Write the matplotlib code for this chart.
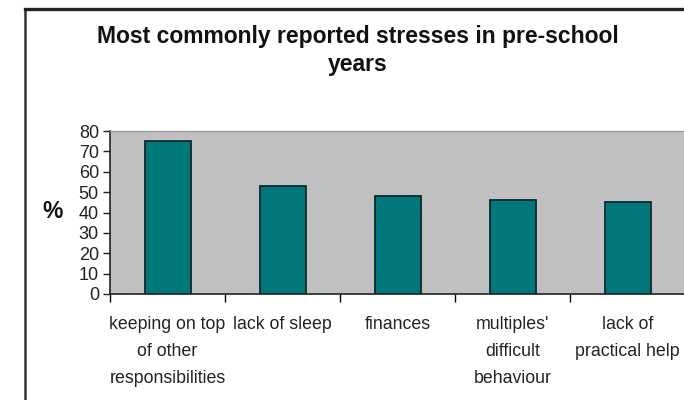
import matplotlib.pyplot as plt
from matplotlib.lines import Line2D

plt.rcParams['font.family'] = ['Liberation Sans', 'DejaVu Sans']

# data
categories = [
    "keeping on top\nof other\nresponsibilities",
    "lack of sleep",
    "finances",
    "multiples'\ndifficult\nbehaviour",
    "lack of\npractical help",
]
percent = [75, 53, 48, 46, 45]
y_ticks = [0, 10, 20, 30, 40, 50, 60, 70, 80]

fig = plt.figure(figsize=(6.84, 4.0), dpi=100)
ax = fig.add_axes([110 / 684, 1 - 294 / 400, 575 / 684, (294 - 131) / 400])

pos = list(range(len(categories)))
ax.bar(pos, percent, width=0.4, color='#00777a', edgecolor='#102828', linewidth=1.3, zorder=3)

ax.set_facecolor('#c0c0c3')
ax.set_xlim(-0.5, len(categories) - 0.5)
ax.set_ylim(0, 80)
ax.set_yticks(y_ticks)
ax.tick_params(axis='y', direction='out', length=5, width=1, pad=3, labelsize=13,
               colors='#222222')

# tick marks on category boundaries, labels at category centres
ax.set_xticks([p - 0.5 for p in pos] + [len(categories) - 0.5])
ax.set_xticklabels([])
ax.set_xticks(pos, minor=True)
ax.set_xticklabels(categories, minor=True, fontsize=12.8, color='#222222', linespacing=1.75)
ax.tick_params(axis='x', which='major', direction='out', length=6, width=1)
ax.tick_params(axis='x', which='minor', length=0, pad=16)

for side in ['top', 'right']:
    ax.spines[side].set_color('#9a9a9a')
    ax.spines[side].set_linewidth(1)
for side in ['left', 'bottom']:
    ax.spines[side].set_color('#222222')
    ax.spines[side].set_linewidth(1.2)

fig.text(358 / 684, 1 - 43 / 400, 'Most commonly reported stresses in pre-school',
         ha='center', va='baseline', fontsize=16.5, fontweight='bold', color='#111111')
fig.text(358 / 684, 1 - 71 / 400, 'years',
         ha='center', va='baseline', fontsize=16.5, fontweight='bold', color='#111111')
fig.text(53 / 684, 1 - 212 / 400, '%', ha='center', va='center',
         fontsize=16.5, fontweight='bold', color='#111111')

# outer chart frame (left and top edges visible)
fig.add_artist(Line2D([25 / 684, 25 / 684], [0, 1 - 8.5 / 400], transform=fig.transFigure,
                      color='#333333', linewidth=1.8))
fig.add_artist(Line2D([25 / 684, 1], [1 - 8.5 / 400, 1 - 8.5 / 400], transform=fig.transFigure,
                      color='#222222', linewidth=2.4))

fig.savefig('out.png', dpi=100)
